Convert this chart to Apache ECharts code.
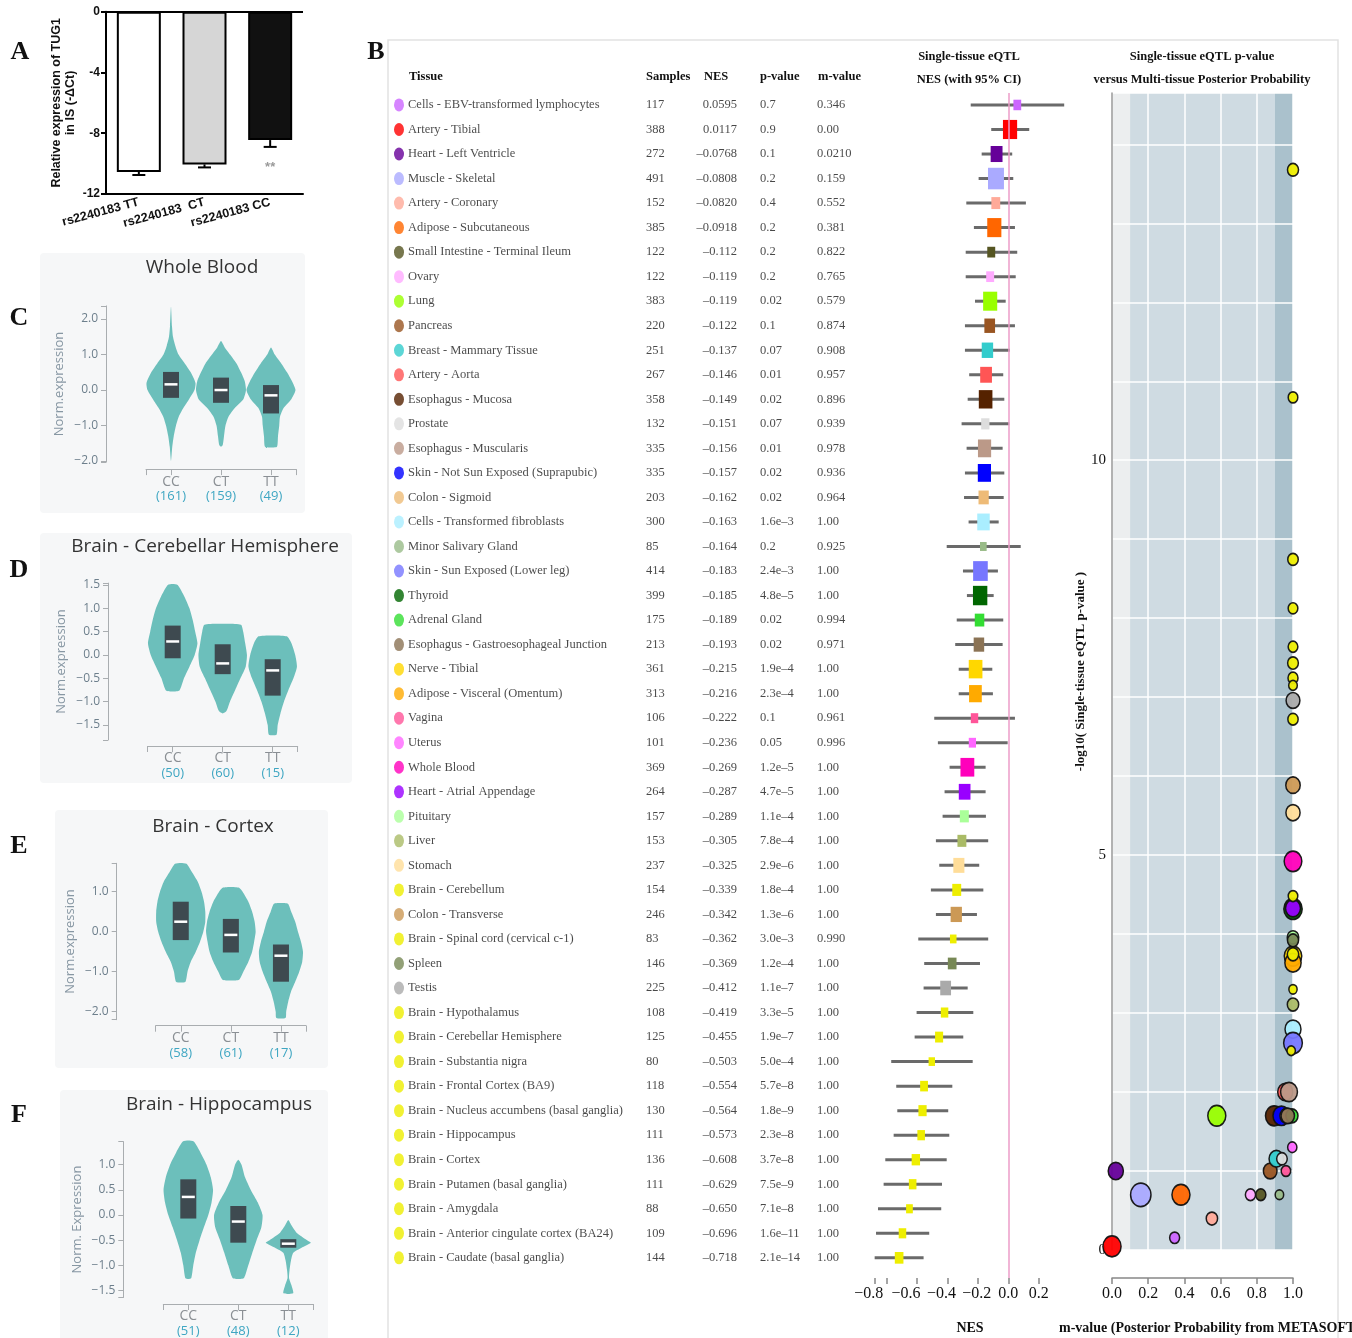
<!DOCTYPE html>
<html>
<head>
<meta charset="utf-8">
<script src="https://cdn.jsdelivr.net/npm/echarts@6.0.0/dist/echarts.min.js"></script>
<style>
  html, body { margin: 0; padding: 0; background: #fff; }
  #chart { width: 1352px; height: 1338px; }
</style>
</head>
<body>
<div id="chart"></div>
<script>
// ---------- panel A : qPCR bars
const genotypesA = ['rs2240183 TT', 'rs2240183  CT', 'rs2240183 CC']
const exprA = [-10.55, -10.05, -8.45]
const errA = [0.2, 0.2, 0.45]
const sigA = ['', '', '**']

// ---------- panel B : GTEx multi-tissue eQTL table
const tissues = [
  'Cells - EBV-transformed lymphocytes', 'Artery - Tibial', 'Heart - Left Ventricle', 'Muscle - Skeletal',
  'Artery - Coronary', 'Adipose - Subcutaneous', 'Small Intestine - Terminal Ileum', 'Ovary', 'Lung', 'Pancreas',
  'Breast - Mammary Tissue', 'Artery - Aorta', 'Esophagus - Mucosa', 'Prostate', 'Esophagus - Muscularis',
  'Skin - Not Sun Exposed (Suprapubic)', 'Colon - Sigmoid', 'Cells - Transformed fibroblasts', 'Minor Salivary Gland',
  'Skin - Sun Exposed (Lower leg)', 'Thyroid', 'Adrenal Gland', 'Esophagus - Gastroesophageal Junction',
  'Nerve - Tibial', 'Adipose - Visceral (Omentum)', 'Vagina', 'Uterus', 'Whole Blood', 'Heart - Atrial Appendage',
  'Pituitary', 'Liver', 'Stomach', 'Brain - Cerebellum', 'Colon - Transverse', 'Brain - Spinal cord (cervical c-1)',
  'Spleen', 'Testis', 'Brain - Hypothalamus', 'Brain - Cerebellar Hemisphere', 'Brain - Substantia nigra',
  'Brain - Frontal Cortex (BA9)', 'Brain - Nucleus accumbens (basal ganglia)', 'Brain - Hippocampus', 'Brain - Cortex',
  'Brain - Putamen (basal ganglia)', 'Brain - Amygdala', 'Brain - Anterior cingulate cortex (BA24)',
  'Brain - Caudate (basal ganglia)'
]
const samples = [117, 388, 272, 491, 152, 385, 122, 122, 383, 220, 251, 267, 358, 132, 335, 335, 203, 300, 85, 414,
  399, 175, 213, 361, 313, 106, 101, 369, 264, 157, 153, 237, 154, 246, 83, 146, 225, 108, 125, 80,
  118, 130, 111, 136, 111, 88, 109, 144]
const nes = [0.0595, 0.0117, -0.0768, -0.0808, -0.0820, -0.0918, -0.112, -0.119, -0.119, -0.122,
  -0.137, -0.146, -0.149, -0.151, -0.156, -0.157, -0.162, -0.163, -0.164, -0.183,
  -0.185, -0.189, -0.193, -0.215, -0.216, -0.222, -0.236, -0.269, -0.287, -0.289,
  -0.305, -0.325, -0.339, -0.342, -0.362, -0.369, -0.412, -0.419, -0.455, -0.503,
  -0.554, -0.564, -0.573, -0.608, -0.629, -0.650, -0.696, -0.718]
const pValues = [0.7, 0.9, 0.1, 0.2, 0.4, 0.2, 0.2, 0.2, 0.02, 0.1,
  0.07, 0.01, 0.02, 0.07, 0.01, 0.02, 0.02, 1.6e-3, 0.2, 2.4e-3,
  4.8e-5, 0.02, 0.02, 1.9e-4, 2.3e-4, 0.1, 0.05, 1.2e-5, 4.7e-5, 1.1e-4,
  7.8e-4, 2.9e-6, 1.8e-4, 1.3e-6, 3.0e-3, 1.2e-4, 1.1e-7, 3.3e-5, 1.9e-7, 5.0e-4,
  5.7e-8, 1.8e-9, 2.3e-8, 3.7e-8, 7.5e-9, 7.1e-8, 1.6e-11, 2.1e-14]
const mValues = [0.346, 0.00, 0.0210, 0.159, 0.552, 0.381, 0.822, 0.765, 0.579, 0.874,
  0.908, 0.957, 0.896, 0.939, 0.978, 0.936, 0.964, 1.00, 0.925, 1.00,
  1.00, 0.994, 0.971, 1.00, 1.00, 0.961, 0.996, 1.00, 1.00, 1.00,
  1.00, 1.00, 1.00, 1.00, 0.990, 1.00, 1.00, 1.00, 1.00, 1.00,
  1.00, 1.00, 1.00, 1.00, 1.00, 1.00, 1.00, 1.00]
const ciLow = [-0.247, -0.112, -0.175, -0.195, -0.276, -0.226, -0.280, -0.280, -0.219, -0.285,
  -0.285, -0.257, -0.267, -0.307, -0.274, -0.285, -0.291, -0.261, -0.405, -0.298,
  -0.272, -0.339, -0.349, -0.326, -0.326, -0.487, -0.463, -0.386, -0.419, -0.432,
  -0.476, -0.454, -0.509, -0.476, -0.592, -0.553, -0.557, -0.603, -0.616, -0.770,
  -0.737, -0.730, -0.754, -0.809, -0.820, -0.857, -0.870, -0.879]
const ciHigh = [0.368, 0.138, 0.026, 0.033, 0.116, 0.044, 0.059, 0.049, -0.017, 0.044,
  0.011, -0.033, -0.026, 0.007, -0.037, -0.026, -0.030, -0.063, 0.082, -0.068,
  -0.096, -0.033, -0.037, -0.105, -0.101, 0.044, -0.004, -0.149, -0.149, -0.147,
  -0.132, -0.191, -0.164, -0.206, -0.132, -0.186, -0.267, -0.230, -0.296, -0.234,
  -0.368, -0.395, -0.388, -0.405, -0.436, -0.441, -0.520, -0.557]
const tissueColors = ['#CC66FF', '#FF0000', '#660099', '#AAAAFF', '#FFAA99', '#FF6600', '#555522', '#FFAAFF', '#99FF00', '#995522',
  '#33CCCC', '#FF5555', '#552200', '#DDDDDD', '#BB9988', '#0000FF', '#EEBB77', '#AAEEFF', '#99BB88', '#7777FF',
  '#006600', '#33DD33', '#8B7355', '#FFD700', '#FFAA00', '#FF5599', '#FF66FF', '#FF00BB', '#9900FF', '#AAFF99',
  '#AABB66', '#FFDD99', '#EEEE00', '#CC9955', '#EEEE00', '#778855', '#AAAAAA', '#EEEE00', '#EEEE00', '#EEEE00',
  '#EEEE00', '#EEEE00', '#EEEE00', '#EEEE00', '#EEEE00', '#EEEE00', '#EEEE00', '#EEEE00']
const mBands = [[0, 0.1], [0.1, 0.9], [0.9, 1.0]]

// ---------- panels C-F : GTEx violins
const violinGenotypes = ['CC', 'CT', 'TT']

const wbCounts = [161, 159, 49]
const wbTicks = [-2, -1, 0, 1, 2]
const wbBoxes = [[-0.22, 0.16, 0.51], [-0.36, 0.0, 0.35], [-0.66, -0.15, 0.14]]
const wbDensity = [
  [[2.35, 0], [1.8, 0.04], [1.5, 0.08], [1.25, 0.17], [1.0, 0.3], [0.75, 0.55], [0.5, 0.79], [0.2, 0.98], [0, 0.94], [-0.25, 0.73], [-0.5, 0.5], [-0.75, 0.31], [-1.0, 0.2], [-1.3, 0.11], [-1.6, 0.05], [-2.0, 0]],
  [[1.38, 0], [1.2, 0.15], [1.0, 0.36], [0.75, 0.62], [0.5, 0.8], [0.25, 0.95], [0, 1.0], [-0.25, 0.9], [-0.5, 0.56], [-0.75, 0.3], [-1.0, 0.18], [-1.3, 0.12], [-1.55, 0.07], [-1.6, 0]],
  [[1.2, 0], [1.0, 0.15], [0.75, 0.41], [0.5, 0.64], [0.25, 0.84], [0, 0.98], [-0.25, 0.82], [-0.5, 0.51], [-0.75, 0.36], [-1.0, 0.33], [-1.3, 0.28], [-1.6, 0.24], [-1.62, 0]]
]

const chCounts = [50, 60, 15]
const chTicks = [-1.5, -1.0, -0.5, 0, 0.5, 1.0, 1.5]
const chBoxes = [[-0.07, 0.29, 0.63], [-0.41, -0.18, 0.23], [-0.87, -0.33, -0.09]]
const chDensity = [
  [[1.52, 0], [1.5, 0.2], [1.25, 0.47], [1.0, 0.67], [0.75, 0.8], [0.5, 0.9], [0.25, 0.99], [0, 0.88], [-0.25, 0.67], [-0.5, 0.45], [-0.76, 0.27], [-0.78, 0]],
  [[0.67, 0], [0.65, 0.73], [0.5, 0.82], [0.25, 0.9], [0, 0.97], [-0.25, 0.92], [-0.5, 0.71], [-0.75, 0.5], [-1.0, 0.29], [-1.2, 0.15], [-1.25, 0]],
  [[0.42, 0], [0.4, 0.57], [0.25, 0.75], [0, 0.9], [-0.25, 0.97], [-0.5, 0.83], [-0.75, 0.63], [-1.0, 0.45], [-1.25, 0.31], [-1.5, 0.2], [-1.7, 0.16], [-1.72, 0]]
]

const cxCounts = [58, 61, 17]
const cxTicks = [-2, -1, 0, 1]
const cxBoxes = [[-0.21, 0.25, 0.75], [-0.52, -0.08, 0.32], [-1.25, -0.6, -0.32]]
const cxDensity = [
  [[1.72, 0], [1.7, 0.23], [1.5, 0.44], [1.25, 0.68], [1.0, 0.83], [0.75, 0.93], [0.5, 0.98], [0.25, 0.98], [0, 0.9], [-0.25, 0.77], [-0.5, 0.6], [-0.75, 0.4], [-1.0, 0.27], [-1.25, 0.19], [-1.27, 0]],
  [[1.12, 0], [1.1, 0.33], [1.0, 0.47], [0.75, 0.7], [0.5, 0.85], [0.25, 0.95], [0, 0.99], [-0.25, 0.93], [-0.5, 0.85], [-0.75, 0.7], [-1.0, 0.5], [-1.2, 0.33], [-1.22, 0]],
  [[0.72, 0], [0.7, 0.28], [0.5, 0.41], [0.25, 0.57], [0, 0.68], [-0.25, 0.8], [-0.5, 0.88], [-0.75, 0.85], [-1.0, 0.73], [-1.25, 0.57], [-1.5, 0.4], [-1.75, 0.29], [-2.0, 0.21], [-2.15, 0.19], [-2.17, 0]]
]

const hpCounts = [51, 48, 12]
const hpTicks = [-1.5, -1.0, -0.5, 0, 0.5, 1.0]
const hpBoxes = [[-0.07, 0.36, 0.71], [-0.55, -0.13, 0.18], [-0.65, -0.57, -0.48]]
const hpDensity = [
  [[1.48, 0], [1.46, 0.22], [1.25, 0.48], [1.0, 0.73], [0.75, 0.9], [0.5, 0.99], [0.25, 0.93], [0, 0.8], [-0.25, 0.62], [-0.5, 0.45], [-0.75, 0.3], [-1.0, 0.2], [-1.25, 0.12], [-1.27, 0]],
  [[1.1, 0], [1.0, 0.13], [0.75, 0.27], [0.5, 0.5], [0.25, 0.78], [0, 0.97], [-0.25, 0.92], [-0.5, 0.73], [-0.75, 0.56], [-1.0, 0.4], [-1.25, 0.23], [-1.27, 0]],
  [[-0.1, 0], [-0.2, 0.12], [-0.35, 0.33], [-0.5, 0.75], [-0.55, 0.9], [-0.65, 0.53], [-0.75, 0.2], [-0.9, 0.11], [-1.1, 0.05], [-1.25, 0.03], [-1.4, 0.13], [-1.55, 0.2], [-1.57, 0]]
]

const serif = "'Liberation Serif', 'DejaVu Serif', serif"
const sans = "'Liberation Sans', Arial, sans-serif"
const uiSans = "'Open Sans', 'Noto Sans', sans-serif"
const teal = '#6cbfbb'

const chart = echarts.init(document.getElementById('chart'))

const grids = []
const xAxes = []
const yAxes = []
const series = []
const graphics = []

const txt = (text, x, y, font, fill, align) => ({
  type: 'text', x, y, silent: true,
  style: { text, font, fill: fill || '#111', textAlign: align || 'left', textVerticalAlign: 'middle' }
})

// ---------------- panel A
grids.push({ left: 106, top: 11.7, width: 197, height: 182.3 })
xAxes.push({
  gridIndex: 0, type: 'category', data: genotypesA,
  axisLine: { onZero: false, lineStyle: { color: '#000', width: 2 } },
  axisTick: { alignWithLabel: true, length: 5, lineStyle: { width: 2, color: '#000' } },
  axisLabel: { rotate: 15, margin: 8, fontFamily: sans, fontWeight: 'bold', fontSize: 12.5, color: '#111' },
})
yAxes.push({
  gridIndex: 0, type: 'value', min: -12, max: 0, interval: 4,
  axisLine: { show: true, lineStyle: { color: '#000', width: 2 } },
  axisTick: { show: true, length: 5, lineStyle: { width: 2, color: '#000' } },
  splitLine: { show: false },
  axisLabel: { fontFamily: sans, fontWeight: 'bold', fontSize: 12, color: '#111', margin: 6 },
  name: 'Relative expression of TUG1\nin IS (-ΔCt)', nameLocation: 'middle', nameRotate: 90, nameGap: 28,
  nameTextStyle: { fontFamily: sans, fontWeight: 'bold', fontSize: 12.5, color: '#111', lineHeight: 14 },
})
series.push({
  type: 'bar', xAxisIndex: 0, yAxisIndex: 0, barWidth: 44, silent: true,
  data: exprA.map((v, i) => ({ value: v, itemStyle: { color: ['#ffffff', '#d6d6d6', '#111111'][i] } })),
  itemStyle: { borderColor: '#000', borderWidth: 2 },
  markLine: {
    silent: true, symbol: 'none', label: { show: false },
    lineStyle: { color: '#000', width: 2, type: 'solid' },
    data: [{ yAxis: 0 }],
  },
})
series.push({
  type: 'custom', xAxisIndex: 0, yAxisIndex: 0, silent: true, z: 3,
  data: exprA.map((v, i) => [i, v, errA[i]]),
  renderItem: (params, api) => {
    const i = params.dataIndex
    const top = api.coord([i, api.value(1)])
    const bot = api.coord([i, api.value(1) - api.value(2)])
    const children = [
      { type: 'line', shape: { x1: top[0], y1: top[1], x2: bot[0], y2: bot[1] }, style: { stroke: '#000', lineWidth: 2 } },
      { type: 'line', shape: { x1: bot[0] - 6.5, y1: bot[1], x2: bot[0] + 6.5, y2: bot[1] }, style: { stroke: '#000', lineWidth: 2 } },
    ]
    if (sigA[i]) {
      children.push({ type: 'text', style: { text: sigA[i], x: bot[0], y: bot[1] + 21, textAlign: 'center', textVerticalAlign: 'middle', font: 'bold 13px ' + sans, fill: '#9a9a9a' } })
    }
    return { type: 'group', children }
  },
})

// ---------------- panel B : table
const rowTop = 92.7
const rowHeight = 1177.4
grids.push({ left: 388, top: rowTop, width: 470, height: rowHeight })
xAxes.push({ gridIndex: 1, type: 'value', min: 0, max: 470, show: false })
yAxes.push({ gridIndex: 1, type: 'category', data: tissues, inverse: true, show: false })

const fmtNes = v => v.toPrecision(3).replace('-', '–')
const fmtP = p => (p >= 0.01 ? String(p) : p.toExponential(1).replace('e-', 'e–'))
const fmtM = m => m.toPrecision(3)

const textColumn = (x, texts, position) => ({
  type: 'scatter', xAxisIndex: 1, yAxisIndex: 1, symbolSize: 0, silent: true,
  data: texts.map((t, i) => [x, i]),
  label: {
    show: true, position, distance: 0, formatter: p => texts[p.dataIndex],
    fontFamily: serif, fontSize: 12.5, color: '#1a1a1a',
  },
})
series.push({
  type: 'scatter', xAxisIndex: 1, yAxisIndex: 1, silent: true, symbol: 'circle', symbolSize: [10, 13],
  data: tissues.map((t, i) => ({ value: [11, i], itemStyle: { color: tissueColors[i] } })),
})
series.push(textColumn(20, tissues, 'right'))
series.push(textColumn(258, samples.map(String), 'right'))
series.push(textColumn(349, nes.map(fmtNes), 'left'))
series.push(textColumn(372, pValues.map(fmtP), 'right'))
series.push(textColumn(429, mValues.map(fmtM), 'right'))

// ---------------- panel B : forest plot
grids.push({ left: 874.5, top: rowTop, width: 190, height: rowHeight })
const negShift = { n2: 2, n4: 12, n6: 22, n8: 36 }
const forestRich = { p: {} }
Object.keys(negShift).forEach(k => { forestRich[k] = { padding: [0, negShift[k], 0, 0] } })
xAxes.push({
  gridIndex: 2, type: 'value', min: -0.88, max: 0.37, offset: 8,
  axisLine: { onZero: false, lineStyle: { color: '#888', width: 1.5 } },
  axisTick: { show: true, length: 6, customValues: [-0.88, -0.8, -0.6, -0.4, -0.2, 0, 0.2], lineStyle: { color: '#888', width: 1.5 } },
  splitLine: { show: false },
  axisLabel: {
    customValues: [-0.8, -0.6, -0.4, -0.2, 0, 0.2], margin: 8,
    fontFamily: serif, fontSize: 16, color: '#111', rich: forestRich,
    formatter: v => (v < -0.01 ? `{n${Math.round(-v * 10)}|−${(-v).toFixed(1)}}` : `{p|${Math.abs(v).toFixed(1)}}`),
  },
})
yAxes.push({ gridIndex: 2, type: 'category', data: tissues, inverse: true, show: false })
series.push({
  type: 'custom', xAxisIndex: 2, yAxisIndex: 2, silent: true, clip: false,
  data: tissues.map((t, i) => [nes[i], i, ciLow[i], ciHigh[i], samples[i]]),
  encode: { x: [0, 2, 3], y: 1 },
  renderItem: (params, api) => {
    const y = api.coord([0, api.value(1)])[1]
    const lo = api.coord([api.value(2), 0])[0]
    const hi = api.coord([api.value(3), 0])[0]
    const cx = api.coord([api.value(0), 0])[0]
    const w = 0.72 * Math.sqrt(api.value(4))
    const h = w * 1.35
    return {
      type: 'group', children: [
        { type: 'line', shape: { x1: lo, y1: y, x2: hi, y2: y }, style: { stroke: '#6a6a6a', lineWidth: 3 } },
        { type: 'rect', shape: { x: cx - w / 2, y: y - h / 2, width: w, height: h }, style: { fill: tissueColors[params.dataIndex] } },
      ]
    }
  },
  markLine: {
    silent: true, symbol: 'none', label: { show: false },
    lineStyle: { color: '#ec9cc8', width: 1.5, type: 'solid' },
    data: [[{ xAxis: 0, y: 93 }, { xAxis: 0, y: 1278 }]],
  },
})

// ---------------- panel B : m-value vs p-value
grids.push({ left: 1112, top: 93, width: 181, height: 1157 })
xAxes.push({
  gridIndex: 3, type: 'value', min: 0, max: 1, interval: 0.2, offset: 28,
  axisLine: { onZero: false, lineStyle: { color: '#888', width: 1.5 } },
  axisTick: { show: true, length: 6, lineStyle: { color: '#888', width: 1.5 } },
  splitLine: { show: true, lineStyle: { color: '#ffffff', width: 1.5 } },
  axisLabel: { margin: 8, fontFamily: serif, fontSize: 16, color: '#111', formatter: v => v.toFixed(1) },
})
yAxes.push({
  gridIndex: 3, type: 'value', min: 0, max: 14.65, interval: 1,
  axisLine: { show: true, onZero: false, lineStyle: { color: '#999', width: 1.5 } },
  axisTick: { show: false },
  splitLine: { show: true, lineStyle: { color: '#ffffff', width: 1.5 } },
  axisLabel: { customValues: [0, 5, 10], margin: 6, fontFamily: serif, fontSize: 15, color: '#111' },
  name: '-log10( Single-tissue eQTL p-value )', nameLocation: 'middle', nameRotate: 90, nameGap: 24,
  nameTextStyle: { fontFamily: serif, fontWeight: 'bold', fontSize: 13, color: '#111' },
})
series.push({
  type: 'custom', xAxisIndex: 3, yAxisIndex: 3, silent: true, z: -1,
  data: mBands.map((b, i) => [b[0], b[1], i]),
  renderItem: (params, api) => {
    const a = api.coord([api.value(0), 14.65])
    const b = api.coord([api.value(1), 0])
    return {
      type: 'rect', shape: { x: a[0], y: a[1], width: b[0] - a[0], height: b[1] - a[1] },
      style: { fill: ['#eceeef', '#cfdbe2', '#aac1cc'][params.dataIndex] }
    }
  },
})
series.push({
  type: 'scatter', xAxisIndex: 3, yAxisIndex: 3, silent: true, clip: false,
  data: tissues.map((t, i) => ({ value: [mValues[i], -Math.log10(pValues[i])], itemStyle: { color: tissueColors[i] } })),
  symbolSize: (val, params) => {
    const d = 0.92 * Math.sqrt(samples[params.dataIndex])
    return [d, d * 1.15]
  },
  itemStyle: { borderColor: '#111', borderWidth: 1.6, opacity: 0.95 },
})

// ---------------- panels C-F : violins
const violinPanels = [
  { title: 'Whole Blood', yName: 'Norm.expression', counts: wbCounts, ticks: wbTicks, boxes: wbBoxes, density: wbDensity,
    min: -2.03, max: 2.37, grid: { left: 146, top: 305.9, width: 150, height: 156.2 }, xOff: 7, yOff: 40,
    titleAt: [202, 268], bg: [40, 253, 265, 260] },
  { title: 'Brain - Cerebellar Hemisphere', yName: 'Norm.expression', counts: chCounts, ticks: chTicks, boxes: chBoxes, density: chDensity,
    min: -1.82, max: 1.54, grid: { left: 147.7, top: 583.1, width: 150, height: 156.9 }, xOff: 6, yOff: 39.7,
    titleAt: [205, 547], bg: [40, 533, 312, 250] },
  { title: 'Brain - Cortex', yName: 'Norm.expression', counts: cxCounts, ticks: cxTicks, boxes: cxBoxes, density: cxDensity,
    min: -2.2, max: 1.71, grid: { left: 155.7, top: 863.3, width: 150.3, height: 156.4 }, xOff: 6, yOff: 39,
    titleAt: [213, 827], bg: [55, 810, 273, 258] },
  { title: 'Brain - Hippocampus', yName: 'Norm. Expression', counts: hpCounts, ticks: hpTicks, boxes: hpBoxes, density: hpDensity,
    min: -1.64, max: 1.46, grid: { left: 163.3, top: 1141.6, width: 150, height: 155.9 }, xOff: 6.5, yOff: 40,
    titleAt: [219, 1105], bg: [60, 1090, 268, 260] },
]

const violinItem = (dens, boxes) => (params, api) => {
  const i = params.dataIndex
  const cx = api.coord([i, 0])[0]
  const half = api.size([1, 0])[0] / 2
  const right = dens[i].map(([v, d]) => [cx + d * half, api.coord([i, v])[1]])
  const left = dens[i].filter(([v, d]) => d > 0).map(([v, d]) => [cx - d * half, api.coord([i, v])[1]]).reverse()
  const [q1, med, q3] = boxes[i]
  const bw = half * 0.64
  const y3 = api.coord([i, q3])[1]
  const y1 = api.coord([i, q1])[1]
  const ym = api.coord([i, med])[1]
  return {
    type: 'group', children: [
      { type: 'polygon', shape: { points: right.concat(left), smooth: 0.2 }, style: { fill: teal } },
      { type: 'rect', shape: { x: cx - bw / 2, y: y3, width: bw, height: y1 - y3 }, style: { fill: '#3e4a50' } },
      { type: 'line', shape: { x1: cx - bw / 2 + 1.5, y1: ym, x2: cx + bw / 2 - 1.5, y2: ym }, style: { stroke: '#fff', lineWidth: 2.5 } },
    ]
  }
}

const fmtNorm = v => (v < 0 ? '−' : '') + Math.abs(v).toFixed(1)

violinPanels.forEach(p => {
  const gi = grids.length
  grids.push(p.grid)
  xAxes.push({
    gridIndex: gi, type: 'value', min: -0.5, max: 2.5, offset: p.xOff,
    axisLine: { onZero: false, lineStyle: { color: '#a9adb0', width: 1 } },
    axisTick: { show: true, length: 6, customValues: [-0.5, 0, 1, 2, 2.5], lineStyle: { color: '#a9adb0' } },
    splitLine: { show: false },
    axisLabel: {
      customValues: [0, 1, 2], margin: 5,
      formatter: v => `{g|${violinGenotypes[v]}}\n{n|(${p.counts[v]})}`,
      rich: {
        g: { fontFamily: uiSans, fontSize: 14, color: '#8a8f94', lineHeight: 15 },
        n: { fontFamily: uiSans, fontSize: 13, color: '#3ea6c2', lineHeight: 15 },
      },
    },
  })
  yAxes.push({
    gridIndex: gi, type: 'value', min: p.min, max: p.max, offset: p.yOff,
    axisLine: { show: true, onZero: false, lineStyle: { color: '#a9adb0', width: 1 } },
    axisTick: { show: true, length: 5, customValues: [p.min].concat(p.ticks, [p.max]), lineStyle: { color: '#a9adb0' } },
    splitLine: { show: false },
    axisLabel: { customValues: p.ticks, margin: 8, fontFamily: uiSans, fontSize: 12, color: '#6d7f8c', formatter: fmtNorm },
    name: p.yName, nameLocation: 'middle', nameRotate: 90, nameGap: 40,
    nameTextStyle: { fontFamily: uiSans, fontSize: 13, color: '#8797a3' },
  })
  series.push({
    type: 'custom', xAxisIndex: gi, yAxisIndex: gi, silent: true, clip: false,
    data: [0, 1, 2].map(i => [i, p.boxes[i][1]]),
    encode: { x: 0, y: 1 },
    renderItem: violinItem(p.density, p.boxes),
  })
  graphics.push({ type: 'rect', z: -10, silent: true, shape: { x: p.bg[0], y: p.bg[1], width: p.bg[2], height: p.bg[3], r: 4 }, style: { fill: '#f6f7f8' } })
  graphics.push(txt(p.title, p.titleAt[0], p.titleAt[1], '19px ' + uiSans, '#333', 'center'))
})

// ---------------- decorations and headings
graphics.push({ type: 'rect', z: -10, silent: true, shape: { x: 388, y: 40, width: 950, height: 1310 }, style: { fill: 'none', stroke: '#e2e2e2', lineWidth: 1.5 } })
const headFont = 'bold 12.5px ' + serif
graphics.push(txt('Tissue', 409, 77, headFont))
graphics.push(txt('Samples', 646, 77, headFont))
graphics.push(txt('NES', 704, 77, headFont))
graphics.push(txt('p-value', 760, 77, headFont))
graphics.push(txt('m-value', 818, 77, headFont))
graphics.push(txt('Single-tissue eQTL', 969, 57, headFont, '#111', 'center'))
graphics.push(txt('NES (with 95% CI)', 969, 80, headFont, '#111', 'center'))
graphics.push(txt('Single-tissue eQTL p-value', 1202, 57, headFont, '#111', 'center'))
graphics.push(txt('versus Multi-tissue Posterior Probability', 1202, 80, headFont, '#111', 'center'))
graphics.push(txt('NES', 970, 1328, 'bold 14px ' + serif, '#111', 'center'))
graphics.push(txt('m-value (Posterior Probability from METASOFT)', 1059, 1328, 'bold 14px ' + serif))

const letterFont = 'bold 26px ' + serif
;[['A', 20, 52], ['B', 376, 52], ['C', 19, 318], ['D', 19, 570], ['E', 19, 846], ['F', 19, 1115]].forEach(l => {
  graphics.push(txt(l[0], l[1], l[2], letterFont, '#111', 'center'))
})

chart.setOption({
  backgroundColor: '#fff',
  animation: false,
  grid: grids,
  xAxis: xAxes,
  yAxis: yAxes,
  series,
  graphic: { elements: graphics },
})
</script>
</body>
</html>
